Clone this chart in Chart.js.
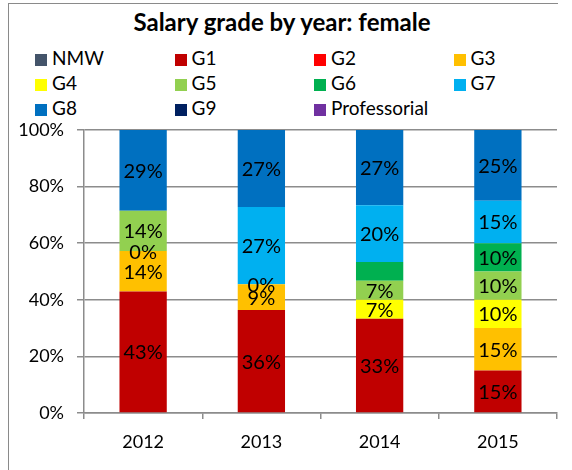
<!DOCTYPE html>
<html>
<head>
<meta charset="utf-8">
<script src="https://cdn.jsdelivr.net/npm/chart.js@4/dist/chart.umd.min.js"></script>
<style>
  body { margin: 0; background: #fff; font-family: Lato, sans-serif; }
  #wrap { position: relative; width: 572px; height: 470px; overflow: hidden; }
  #frame { position: absolute; left: 8px; top: 3px; width: 549px; height: 480px;
           border-left: 1.5px solid #8a8a8a; border-top: 1.5px solid #8a8a8a; }
  #title { position: absolute; left: 0; width: 564px; top: 7px; text-align: center;
           font-weight: bold; font-size: 24px; color: #000; }
  .lg { position: absolute; font-size: 19px; color: #000; line-height: 20px; white-space: nowrap; }
  .lg i { display: inline-block; width: 12px; height: 12px; margin-right: 5px; vertical-align: -1px; }
  canvas { position: absolute; left: 0; top: 0; }
</style>
</head>
<body>
<div id="wrap">
  <div id="frame"></div>
  <div id="title">Salary grade by year: female</div>
  <div id="legend"></div>
  <canvas id="chart" width="572" height="470"></canvas>
</div>
<script>
const years  = ['2012', '2013', '2014', '2015']
const grades = ['NMW', 'G1', 'G2', 'G3', 'G4', 'G5', 'G6', 'G7', 'G8', 'G9', 'Professorial']
const colors = ['#44546A', '#C00000', '#FF0000', '#FFC000', '#FFFF00', '#92D050',
                '#00B050', '#00B0F0', '#0070C0', '#002060', '#7030A0']

// share of female staff per grade, percent
const NMW          = [null, null, null, null]
const G1           = [42.9, 36.4, 33.3, 15]
const G2           = [null, null, null, null]
const G3           = [14.3, 9.1, null, 15]
const G4           = [0, 0, 6.7, 10]
const G5           = [14.3, null, 6.7, 10]
const G6           = [null, null, 6.7, 10]
const G7           = [null, 27.3, 20, 15]
const G8           = [28.5, 27.2, 26.6, 25]
const G9           = [null, null, null, null]
const Professorial = [null, null, null, null]
const series = [NMW, G1, G2, G3, G4, G5, G6, G7, G8, G9, Professorial]

const yTicks     = [0, 20, 40, 60, 80, 100]
const UNLABELLED = ['2014:G6']

// legend in four fixed columns, like the original
const legendEl = document.getElementById('legend')
grades.forEach((g, i) => {
  const d = document.createElement('div')
  d.className = 'lg'
  d.style.left = (35 + (i % 4) * 139.5) + 'px'
  d.style.top  = (48 + Math.floor(i / 4) * 25) + 'px'
  d.innerHTML = `<i style="background:${colors[i]}"></i>${g}`
  legendEl.appendChild(d)
})

const segLabels = {
  id: 'segLabels',
  afterDatasetsDraw(chart) {
    const ctx = chart.ctx
    ctx.save()
    ctx.font = '20px Lato'
    ctx.fillStyle = '#000'
    ctx.textAlign = 'center'
    ctx.textBaseline = 'middle'
    chart.data.datasets.forEach((ds, di) => {
      chart.getDatasetMeta(di).data.forEach((bar, i) => {
        const v = ds.data[i]
        if (v == null || UNLABELLED.includes(`${years[i]}:${ds.label}`)) return
        const { x, y, base } = bar.getProps(['x', 'y', 'base'], true)
        ctx.fillText(`${Math.round(v)}%`, x, (y + base) / 2 + 1)
      })
    })
    ctx.restore()
  }
}

const gridGray = '#8c8c8c'

new Chart(document.getElementById('chart').getContext('2d'), {
  type: 'bar',
  data: {
    labels: years,
    datasets: grades.map((g, i) => ({
      label: g,
      data: series[i],
      backgroundColor: colors[i],
      borderWidth: 0,
      barPercentage: 0.4,
      categoryPercentage: 1
    }))
  },
  options: {
    responsive: false,
    animation: false,
    layout: { padding: { top: 130, right: 15, left: 0, bottom: 0 } },
    plugins: {
      legend: { display: false },
      tooltip: { enabled: false }
    },
    scales: {
      x: {
        stacked: true,
        afterFit: s => { s.height = 57 },
        grid: {
          offset: true,
          drawOnChartArea: false,
          color: gridGray,
          tickLength: 6,
          lineWidth: 1.5
        },
        border: { color: gridGray, width: 1.5 },
        ticks: { color: '#000', font: { family: 'Lato', size: 18 }, padding: 12 }
      },
      y: {
        stacked: true,
        min: 0,
        max: 100,
        afterFit: s => { s.width = 84 },
        afterBuildTicks: s => { s.ticks = yTicks.map(v => ({ value: v })) },
        grid: { color: gridGray, tickLength: 7, lineWidth: 1.5 },
        border: { color: gridGray, width: 1.5 },
        ticks: {
          color: '#000',
          font: { family: 'Lato', size: 18 },
          padding: 13,
          callback: v => v + '%'
        }
      }
    }
  },
  plugins: [segLabels]
})
</script>
</body>
</html>
